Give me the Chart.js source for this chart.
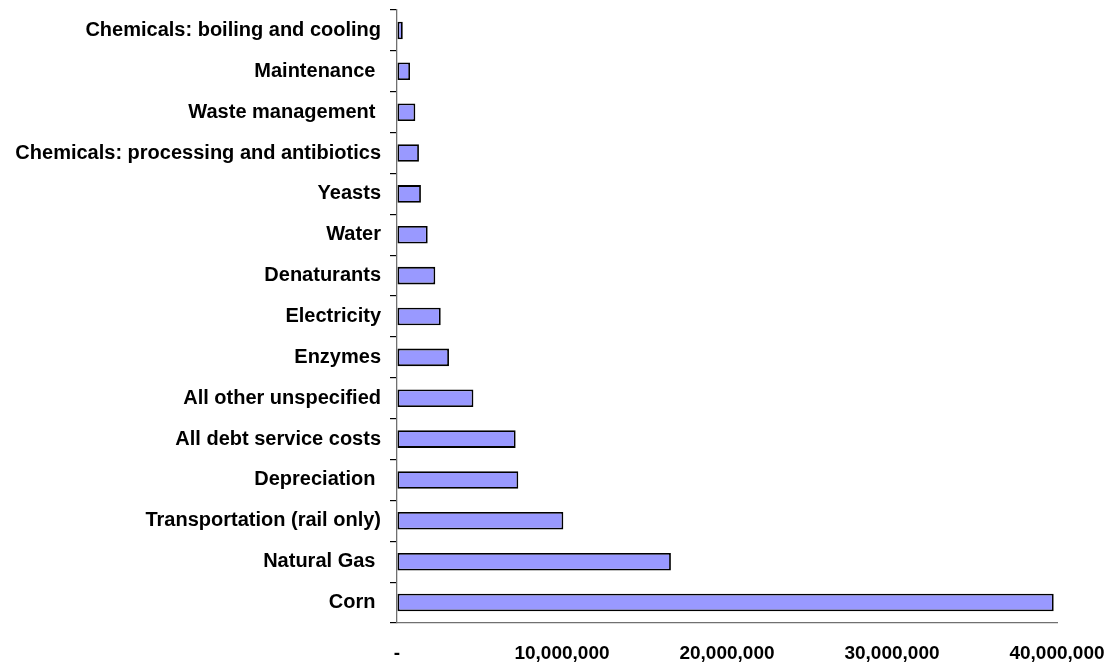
<!DOCTYPE html>
<html>
<head>
<meta charset="utf-8">
<script src="https://cdn.jsdelivr.net/npm/chart.js@4"></script>
<style>
html,body{margin:0;padding:0;background:#fff;}
#wrap{width:1112px;height:664px;position:relative;}
</style>
</head>
<body>
<div id="wrap"><canvas id="c" width="1112" height="664"></canvas></div>
<script>
const categories = [
  "Chemicals: boiling and cooling",
  "Maintenance ",
  "Waste management ",
  "Chemicals: processing and antibiotics",
  "Yeasts",
  "Water",
  "Denaturants",
  "Electricity",
  "Enzymes",
  "All other unspecified",
  "All debt service costs",
  "Depreciation ",
  "Transportation (rail only)",
  "Natural Gas ",
  "Corn "
];
const costs = [350000, 790000, 1110000, 1330000, 1450000, 1860000, 2320000, 2650000, 3150000, 4630000, 7190000, 7350000, 10080000, 16600000, 39800000];
const xTicks = [0, 10000000, 20000000, 30000000, 40000000];
const xTickLabels = ["-", "10,000,000", "20,000,000", "30,000,000", "40,000,000"];

new Chart(document.getElementById('c'), {
  type: 'bar',
  data: {
    labels: categories,
    datasets: [{
      data: costs,
      backgroundColor: '#9999FF',
      borderColor: '#000000',
      borderWidth: 1.8,
      borderSkipped: false,
      categoryPercentage: 1.0,
      barPercentage: 0.43
    }]
  },
  options: {
    indexAxis: 'y',
    responsive: false,
    animation: false,
    devicePixelRatio: 1,
    layout: { padding: { left: 0, right: 55, top: 10, bottom: 0 } },
    plugins: { legend: { display: false }, tooltip: { enabled: false } },
    scales: {
      x: {
        min: 0, max: 40000000,
        afterBuildTicks: (s) => { s.ticks = xTicks.map(v => ({ value: v })); },
        afterFit: (s) => { s.height = 41; s.paddingLeft = 0; s.paddingRight = 0; },
        grid: { display: true, drawOnChartArea: false, drawTicks: false },
        border: { display: true, color: '#707070', width: 1.3 },
        ticks: {
          padding: 19,
          maxRotation: 0,
          autoSkip: false,
          color: '#000',
          font: { family: 'Liberation Sans, Arial, sans-serif', size: 19, weight: 'bold' },
          callback: (v) => xTickLabels[xTicks.indexOf(v)]
        }
      },
      y: {
        afterFit: (s) => { s.width = 397; s.paddingTop = 0; s.paddingBottom = 0; },
        grid: { display: true, drawOnChartArea: false, drawTicks: true, tickLength: 7, color: '#000', lineWidth: 1.2, offset: true },
        border: { display: true, color: '#707070', width: 1.3 },
        ticks: {
          padding: 9,
          autoSkip: false,
          color: '#000',
          font: { family: 'Liberation Sans, Arial, sans-serif', size: 20, weight: 'bold' }
        }
      }
    }
  }
});
</script>
</body>
</html>
